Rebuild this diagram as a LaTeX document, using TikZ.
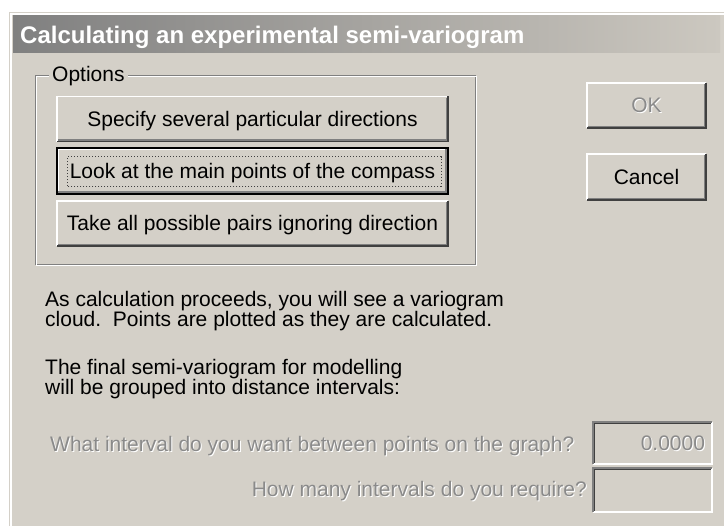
\documentclass[tikz,border=0pt]{standalone}
\usepackage{fontspec}
\setmainfont{Liberation Sans}
\usepackage{xcolor}
\definecolor{cFace}{HTML}{D4D0C8}
\definecolor{cShadow}{HTML}{808080}
\definecolor{cDark}{HTML}{404040}
\definecolor{cTitleL}{HTML}{808080}
\definecolor{cTitleR}{HTML}{CCC8C0}
\definecolor{cGrayText}{HTML}{8A8A8A}
\usetikzlibrary{positioning,calc}
\newcommand{\dlgfont}{\fontsize{21}{19}\selectfont}
% disabled text: gray with a white copy one pixel lower right
\newcommand{\grayedtext}[1]{\makebox[0pt][l]{\raisebox{-1pt}{\hspace{1pt}\textcolor{white}{#1}}}\textcolor{cGrayText}{#1}}
\tikzset{
  win-button/.style={fill=cFace,minimum width=119pt,minimum height=45pt,inner sep=0pt,
    font=\dlgfont,text height=16pt,text depth=1pt},
  win-wide/.style={win-button,minimum width=391pt},
  win-field/.style={fill=cFace,minimum width=119pt,minimum height=42pt,inner sep=0pt,
    font=\dlgfont,text height=16pt,text depth=1pt},
  win-label/.style={font=\dlgfont,inner sep=0pt,align=left},
  bevel-light/.style={draw=white,line width=1.5pt},
  bevel-dark/.style={draw=cDark,line width=1.5pt},
  bevel-mid/.style={draw=cShadow,line width=1.5pt},
}

\begin{document}
\begin{tikzpicture}[x=1pt,y=-1pt]
  \useasboundingbox (0,0) rectangle (724,526);
  \fill[white] (0,0) rectangle (724,526);
  % dialog frame and title bar
  \fill[cFace] (9,12) rectangle (724,526);
  \draw[white,line width=1.5pt] (11,526) |- (724,14);
  \shade[left color=cTitleL,right color=cTitleR] (13,16) rectangle (720,53);
  \node[anchor=base west,inner sep=0pt,text=white,font=\fontsize{24}{28}\selectfont\bfseries]
    (title) at (20,44) {Calculating an experimental semi-variogram};

  % options group
  \draw[cShadow,line width=1pt] (35,76) rectangle (475,265);
  \draw[white,line width=1pt] (36,77) rectangle (476,266);
  \node[anchor=base west,fill=cFace,inner xsep=3pt,inner ysep=1pt,font=\dlgfont]
    (options) at (49,82) {Options};

  \node[win-wide] (b1) at (252.5,119) {Specify several particular directions};
  \node[win-wide,minimum height=46pt] (b2) at (252.5,171) {Look at the main points of the compass};
  \node[win-wide] (b3) at (252.5,223.5) {Take all possible pairs ignoring direction};

  \node[win-button] (ok) at (646.5,105.5) {\grayedtext{OK}};
  \node[win-button,minimum height=46pt] (cancel) at (646.5,177) {Cancel};

  \foreach \b in {b1,b3,ok,cancel} {
    \draw[bevel-light] (\b.south west) |- (\b.north east);
    \draw[bevel-dark] (\b.south west) -| (\b.north east);
    \draw[bevel-mid] ([shift={(1.5,-1.5)}]\b.south west) -| ([shift={(-1.5,1.5)}]\b.north east);
  }
  % default button with focus
  \draw[black,line width=1.5pt] (b2.south west) rectangle (b2.north east);
  \draw[bevel-light] ([shift={(1.5,-1.5)}]b2.south west) |- ([shift={(-1.5,1.5)}]b2.north east);
  \draw[bevel-mid] ([shift={(1.5,-2)}]b2.south west) -| ([shift={(-2,1.5)}]b2.north east);
  \draw[dotted,cDark,line width=1pt] ([shift={(11,-8)}]b2.south west) rectangle ([shift={(-7,9)}]b2.north east);

  % explanation (base = baseline of the last line)
  \node[win-label,anchor=base west] (info1) at (45,327)
    {As calculation proceeds, you will see a variogram\\cloud.\ \ Points are plotted as they are calculated.};
  \node[win-label,anchor=base west] (info2) at (45,395)
    {The final semi-variogram for modelling\\will be grouped into distance intervals:};

  % interval fields
  \node[win-label,anchor=base west] (q1) at (50,452) {\grayedtext{What interval do you want between points on the graph?}};
  \node[win-label,anchor=base east] (q2) at (587,497) {\grayedtext{How many intervals do you require?}};
  \node[win-field,text width=105pt,align=right] (f1) at (652.5,443) {\grayedtext{0.0000}};
  \node[win-field,minimum height=44pt] (f2) at (652.5,490) {};
  \foreach \f in {f1,f2} {
    \draw[bevel-light] (\f.south west) -| (\f.north east);
    \draw[bevel-mid] (\f.south west) |- (\f.north east);
    \draw[bevel-dark] ([shift={(1.5,-1.5)}]\f.south west) |- ([shift={(-1.5,1.5)}]\f.north east);
  }
\end{tikzpicture}
\end{document}
